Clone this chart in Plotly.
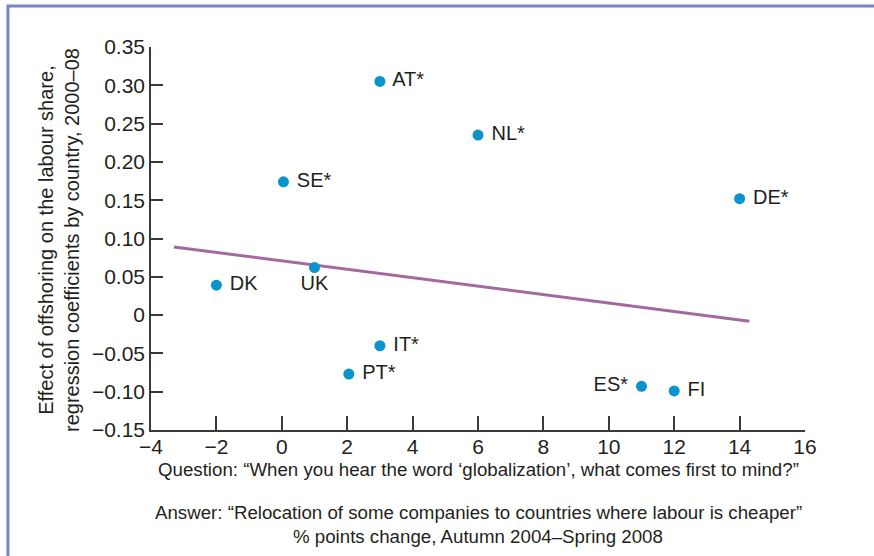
import plotly.graph_objects as go

# countries and values
countries = ["AT*", "NL*", "SE*", "DE*", "DK", "UK", "IT*", "PT*", "ES*", "FI"]
pct_change = [3.0, 6.0, 0.05, 14.0, -2.0, 1.0, 3.0, 2.05, 11.0, 12.0]
effect = [0.305, 0.235, 0.174, 0.152, 0.039, 0.062, -0.040, -0.077, -0.093, -0.099]
label_pos = ["middle right", "middle right", "middle right", "middle right", "middle right",
             "bottom center", "middle right", "middle right", "middle left", "middle right"]

# fitted line end points
fit_x = [-3.3, 14.3]
fit_y = [0.089, -0.008]

y_ticks = [0.35, 0.30, 0.25, 0.20, 0.15, 0.10, 0.05, 0, -0.05, -0.10, -0.15]
y_labels = ["0.35", "0.30", "0.25", "0.20", "0.15", "0.10", "0.05", "0",
            "\u22120.05", "\u22120.10", "\u22120.15"]
x_ticks = [-4, -2, 0, 2, 4, 6, 8, 10, 12, 14, 16]
x_labels = ["\u22124", "\u22122", "0", "2", "4", "6", "8", "10", "12", "14", "16"]

FONT = "Liberation Sans, Arial, sans-serif"
INK = "#231f20"
AXIS = "#3a3a3a"

fig = go.Figure()
fig.add_trace(go.Scatter(x=fit_x, y=fit_y, mode="lines",
                         line=dict(color="#a4699f", width=3), hoverinfo="skip"))
fig.add_trace(go.Scatter(x=pct_change, y=effect, mode="markers+text",
                         text=[" " + c + " " for c in countries], textposition=label_pos,
                         textfont=dict(family=FONT, size=20, color=INK),
                         marker=dict(color="#0a93cd", size=11)))

fig.update_layout(
    width=874, height=556,
    margin=dict(l=151, r=69, t=47, b=126, autoexpand=False),
    paper_bgcolor="white", plot_bgcolor="white",
    showlegend=False,
    font=dict(family=FONT, size=20, color=INK),
    xaxis=dict(range=[-4, 16], tickvals=x_ticks, ticktext=x_labels,
               showgrid=False, zeroline=False, showline=True, linecolor=AXIS,
               linewidth=1.5, ticks="inside", ticklen=14, tickwidth=1.5, tickcolor=AXIS,
               tickfont=dict(size=21), ticklabelstandoff=-3),
    yaxis=dict(range=[-0.15, 0.35], tickvals=y_ticks, ticktext=y_labels,
               showgrid=False, zeroline=False, showline=True, linecolor=AXIS,
               linewidth=1.5, ticks="inside", ticklen=12, tickwidth=1.5, tickcolor=AXIS,
               tickfont=dict(size=21)),
)

# y-axis title
fig.add_annotation(x=-0.1407, y=0.496, xref="paper", yref="paper", textangle=-90,
                   text="Effect of offshoring on the labour share,<br>regression coefficients by country, 2000\u201308",
                   showarrow=False, xanchor="center", yanchor="middle",
                   font=dict(size=20, color=INK))

# x-axis caption lines
captions = [
    (-0.1044, "Question: \u201cWhen you hear the word \u2018globalization\u2019, what comes first to mind?\u201d"),
    (-0.2167, "Answer: \u201cRelocation of some companies to countries where labour is cheaper\u201d"),
    (-0.279, "% points change, Autumn 2004\u2013Spring 2008"),
]
for yy, txt in captions:
    fig.add_annotation(x=0.5, y=yy, xref="paper", yref="paper", text=txt, showarrow=False,
                       xanchor="center", yanchor="middle", font=dict(size=18.7, color=INK))

# frame on the left and top edges
fig.add_shape(type="path", xref="paper", yref="paper",
              path="M -0.2187,-0.5 L -0.2187,1.107 L 1.2,1.107",
              line=dict(color="#7386c6", width=3))

fig.write_html("out.html", config={"displayModeBar": False},
               post_script="document.body.style.margin='0px';")
